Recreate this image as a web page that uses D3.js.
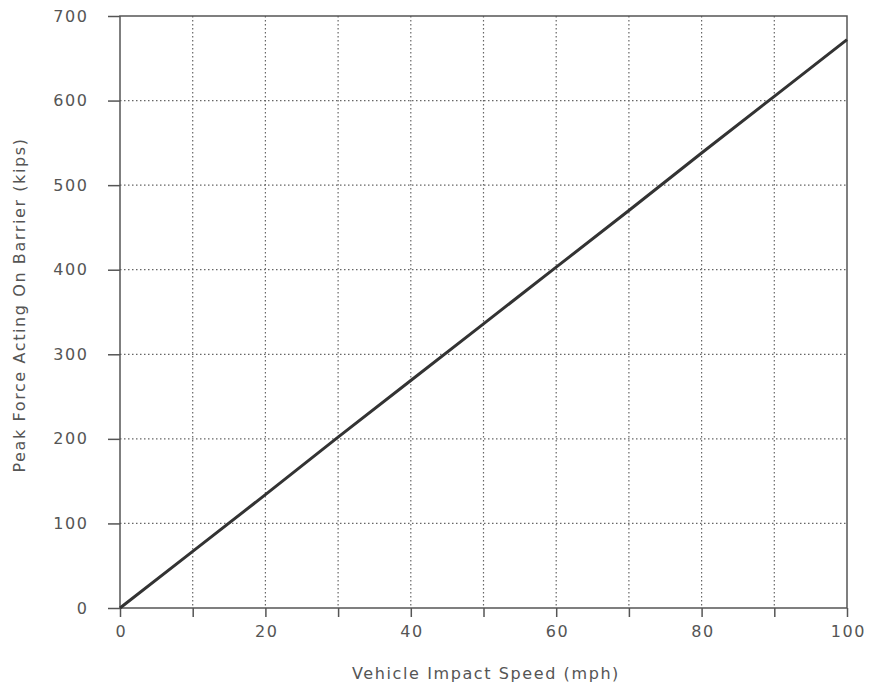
<!DOCTYPE html>
<html>
<head>
<meta charset="utf-8">
<script src="https://cdn.jsdelivr.net/npm/d3@7"></script>
<style>
  html, body { margin: 0; padding: 0; background: #fff; }
  svg text { font-family: "DejaVu Sans", "Liberation Sans", sans-serif; fill: #555; }
</style>
</head>
<body>
<svg id="chart" width="870" height="690"></svg>
<script>
// Peak barrier force versus vehicle impact speed
const speeds = [0, 10, 20, 30, 40, 50, 60, 70, 80, 90, 100];
const forces = [0, 67, 134, 202, 269, 336, 403, 470, 538, 605, 672];
const xTickValues = [0, 20, 40, 60, 80, 100];
const yTickValues = [0, 100, 200, 300, 400, 500, 600, 700];
const xGridValues = [10, 20, 30, 40, 50, 60, 70, 80, 90];
const xLabel = "Vehicle Impact Speed (mph)";
const yLabel = "Peak Force Acting On Barrier (kips)";

const svg = d3.select("#chart");
const plotLeft = 120, plotRight = 847, plotTop = 16, plotBottom = 608;
const fontSize = 16, spacing = 1.6;

const x = d3.scaleLinear().domain([0, 100]).range([plotLeft, plotRight]);
const y = d3.scaleLinear().domain([0, 700]).range([plotBottom, plotTop]);

// dotted grid
const grid = svg.append("g")
  .attr("stroke", "#666").attr("stroke-width", 1.2)
  .attr("stroke-dasharray", "1.5,2.5");
grid.selectAll("line.gx").data(xGridValues).join("line")
  .attr("class", "gx")
  .attr("x1", d => x(d)).attr("x2", d => x(d))
  .attr("y1", plotTop).attr("y2", plotBottom);
grid.selectAll("line.gy").data(yTickValues.filter(v => v > 0 && v < 700)).join("line")
  .attr("class", "gy")
  .attr("x1", plotLeft).attr("x2", plotRight)
  .attr("y1", d => y(d)).attr("y2", d => y(d));

// frame
svg.append("rect")
  .attr("x", plotLeft).attr("y", plotTop)
  .attr("width", plotRight - plotLeft).attr("height", plotBottom - plotTop)
  .attr("fill", "none").attr("stroke", "#555").attr("stroke-width", 1.5);

// axes
const xAxis = d3.axisBottom(x).tickValues(speeds).tickSize(9).tickPadding(9)
  .tickFormat(d => xTickValues.includes(d) ? d : "");
const gx = svg.append("g").attr("transform", `translate(0,${plotBottom})`).call(xAxis);
gx.select(".domain").remove();
gx.selectAll(".tick line").attr("stroke", "#555").attr("stroke-width", 1.5);
gx.selectAll(".tick text").attr("font-size", fontSize).attr("fill", "#555")
  .attr("letter-spacing", spacing).attr("dx", spacing / 2);

const yAxis = d3.axisLeft(y).tickValues(yTickValues).tickSize(12).tickPadding(19.5);
const gy = svg.append("g").attr("transform", `translate(${plotLeft},0)`).call(yAxis);
gy.select(".domain").remove();
gy.selectAll(".tick line").attr("stroke", "#555").attr("stroke-width", 1.5);
gy.selectAll(".tick text").attr("font-size", fontSize).attr("fill", "#555")
  .attr("letter-spacing", spacing);

// force line
svg.append("path")
  .datum(speeds.map((s, i) => [s, forces[i]]))
  .attr("fill", "none").attr("stroke", "#333").attr("stroke-width", 3)
  .attr("d", d3.line().x(d => x(d[0])).y(d => y(d[1])));

// axis titles
svg.append("text")
  .attr("x", 486).attr("y", 679)
  .attr("text-anchor", "middle").attr("font-size", fontSize)
  .attr("letter-spacing", spacing)
  .text(xLabel);
svg.append("text")
  .attr("transform", "translate(25,305) rotate(-90)")
  .attr("text-anchor", "middle").attr("font-size", fontSize)
  .attr("letter-spacing", spacing)
  .text(yLabel);
</script>
</body>
</html>
